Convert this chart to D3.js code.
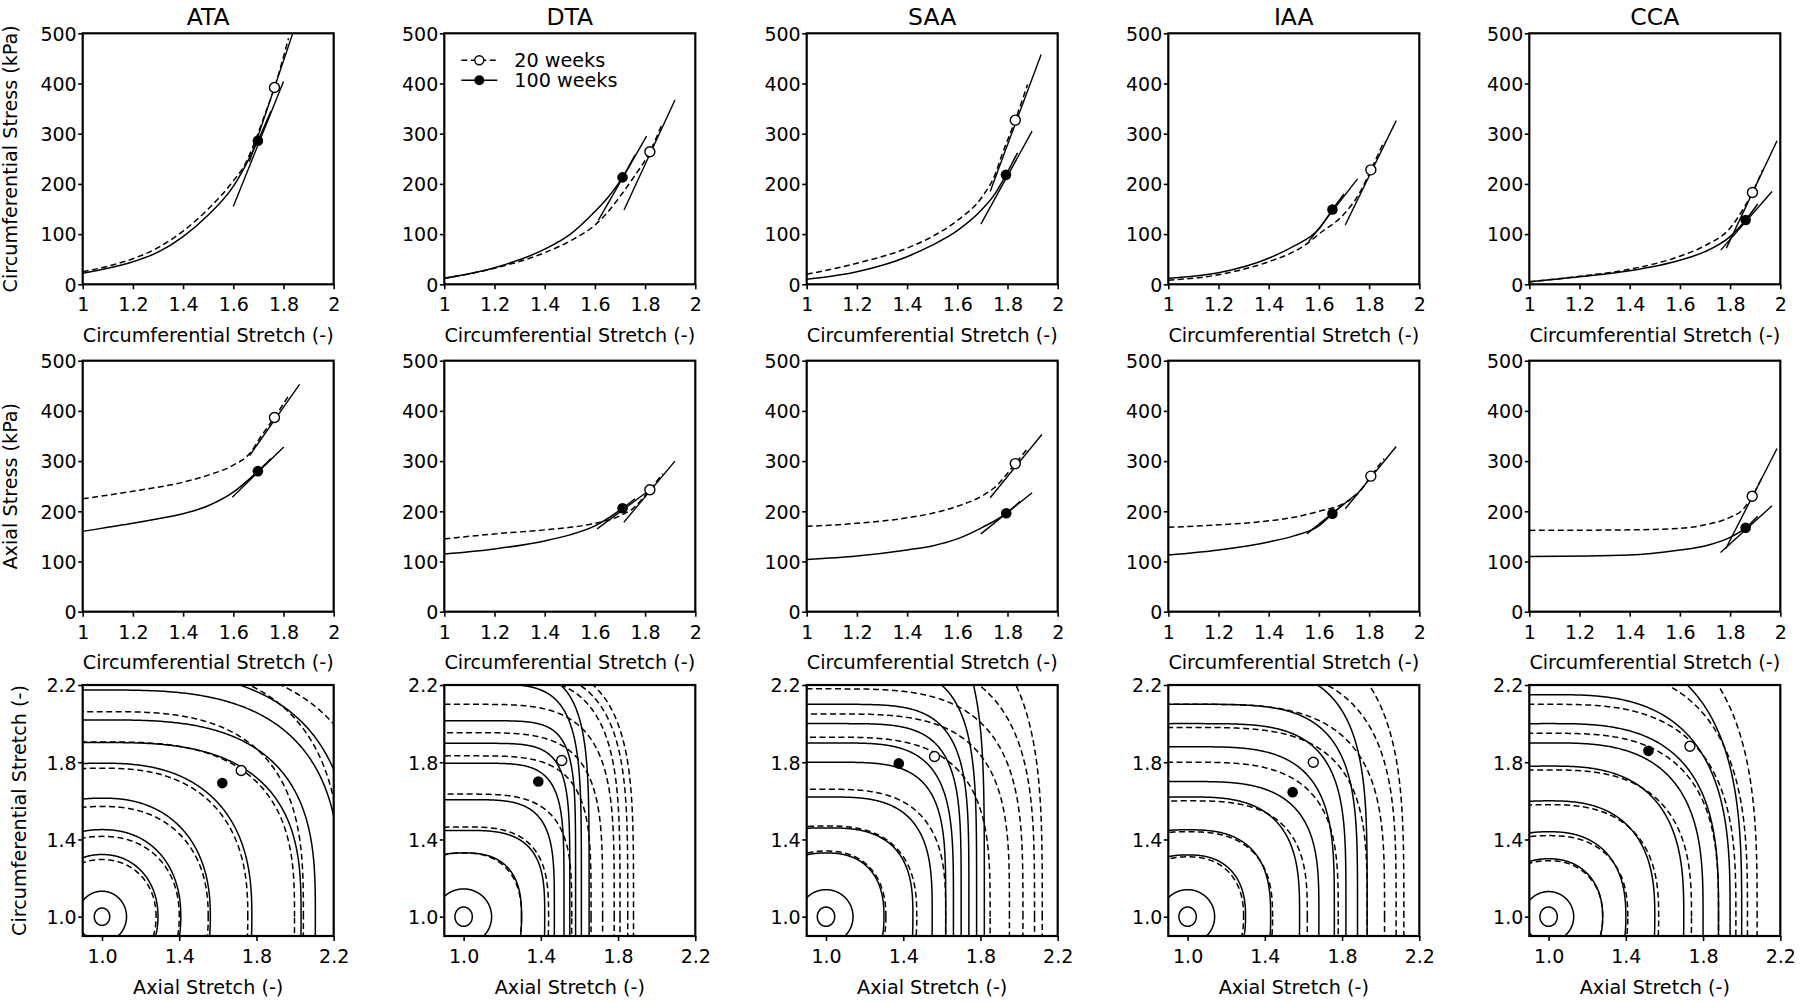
<!DOCTYPE html>
<html><head><meta charset="utf-8">
<script src="https://cdn.jsdelivr.net/npm/d3@7"></script>
<style>body{margin:0;background:#fff}text{font-family:"DejaVu Sans",sans-serif;fill:#000}</style>
</head><body><svg id="c" width="1800" height="1002"></svg>
<script>
// ---------------- DATA ----------------
const sites = ["ATA","DTA","SAA","IAA","CCA"];
const stretchTicks = [1,1.2,1.4,1.6,1.8,2];
const stressTicks = [0,100,200,300,400,500];
const mapTicks = [1.0,1.4,1.8,2.2];
const legendLabels = ["20 weeks","100 weeks"];

// Row 1: circumferential stress vs circumferential stretch
const circStress20 = [
  [[1,25],[1.1,36],[1.2,51],[1.3,73],[1.4,106],[1.5,150],[1.6,206],[1.65,242],[1.678,274],[1.72,330],[1.764,392],[1.82,490]],
  [[1,12],[1.2,32],[1.4,63],[1.5,86],[1.6,118],[1.65,143],[1.7,175],[1.75,210],[1.819,264],[1.87,322]],
  [[1,20],[1.2,42],[1.4,72],[1.5,95],[1.6,127],[1.7,175],[1.75,218],[1.778,258],[1.831,327],[1.88,398]],
  [[1,8],[1.2,19],[1.4,45],[1.5,65],[1.55,80],[1.6,100],[1.7,140],[1.76,180],[1.807,228],[1.86,285]],
  [[1,5],[1.2,16],[1.4,30],[1.6,56],[1.7,77],[1.8,112],[1.85,148],[1.889,183],[1.93,228]]
];
const circStress100 = [
  [[1,22],[1.1,32],[1.2,45],[1.3,64],[1.4,95],[1.5,138],[1.6,195],[1.65,238],[1.698,286],[1.75,345]],
  [[1,12],[1.2,33],[1.4,70],[1.5,99],[1.6,145],[1.65,172],[1.71,213],[1.76,258]],
  [[1,10],[1.2,25],[1.4,55],[1.5,78],[1.6,107],[1.7,150],[1.75,180],[1.794,218],[1.84,262]],
  [[1,12],[1.2,23],[1.4,52],[1.5,76],[1.6,110],[1.654,149],[1.7,180]],
  [[1,5],[1.2,15],[1.4,27],[1.6,48],[1.7,65],[1.8,95],[1.862,128],[1.91,160]]
];
const circMarker20 = [[1.764,392],[1.819,264],[1.831,327],[1.807,228],[1.889,183]];
const circMarker100 = [[1.698,286],[1.710,213],[1.794,218],[1.654,149],[1.862,128]];
const circTangent20 = [[1.664,244,1.864,540],[1.716,148,1.919,367],[1.731,185,1.934,458],[1.705,118,1.908,326],[1.785,72,1.987,286]];
const circTangent100 = [[1.6,155,1.8,404],[1.614,128,1.806,295],[1.694,120,1.898,305],[1.559,85,1.754,210],[1.763,68,1.967,185]];

// Row 2: axial stress vs circumferential stretch
const axialStress20 = [
  [[1,225],[1.2,240],[1.4,258],[1.5,272],[1.6,292],[1.665,315],[1.71,349],[1.764,387],[1.82,430]],
  [[1,145],[1.2,155],[1.4,163],[1.5,168],[1.6,176],[1.7,191],[1.75,205],[1.819,243],[1.87,275]],
  [[1,170],[1.2,176],[1.4,187],[1.5,196],[1.6,210],[1.7,231],[1.75,248],[1.831,295],[1.88,325]],
  [[1,168],[1.2,173],[1.4,181],[1.5,188],[1.6,200],[1.7,216],[1.76,238],[1.807,270],[1.86,305]],
  [[1,162],[1.4,163],[1.6,166],[1.7,173],[1.8,188],[1.85,203],[1.888,230],[1.93,270]]
];
const axialStress100 = [
  [[1,160],[1.1,168],[1.2,176],[1.3,185],[1.4,195],[1.5,211],[1.6,238],[1.65,258],[1.698,280],[1.75,305]],
  [[1,115],[1.2,125],[1.4,141],[1.5,153],[1.6,171],[1.71,206],[1.76,225]],
  [[1,104],[1.2,111],[1.4,123],[1.5,131],[1.6,145],[1.7,168],[1.795,196],[1.85,220]],
  [[1,113],[1.2,123],[1.4,139],[1.5,151],[1.6,171],[1.654,195],[1.7,215]],
  [[1,110],[1.4,113],[1.6,123],[1.7,131],[1.8,148],[1.862,167],[1.91,190]]
];
const axialMarker20 = [[1.764,387],[1.819,243],[1.831,295],[1.807,270],[1.888,230]];
const axialMarker100 = [[1.698,280],[1.710,206],[1.795,196],[1.654,195],[1.862,167]];
const axialTangent20 = [[1.665,311,1.864,453],[1.715,178,1.919,300],[1.731,227,1.937,353],[1.705,205,1.908,329],[1.782,125,1.987,325]];
const axialTangent100 = [[1.596,228,1.801,328],[1.609,165,1.806,238],[1.694,155,1.898,237],[1.552,155,1.751,235],[1.762,118,1.967,211]];

// Row 3: energy contours in (axial stretch, circumferential stretch)
// each contour: [axial-stretch intercept at circ=1, circ-stretch intercept at axial=1, squareness]
const mapCenter = [1,1];
const contours100 = [
  [[1.04,1.045,2],[1.127,1.132,2],[1.29,1.322,2.1],[1.408,1.451,2.2],[1.561,1.614,2.3],[1.776,1.795,2.5],[2.031,1.902,2.9],[2.105,2.019,3],[2.237,2.174,3],[2.30,2.274,3]],
  [[1.045,1.05,2],[1.145,1.144,2],[1.30,1.33,2.6],[1.42,1.447,3.2],[1.47,1.606,4],[1.52,1.795,5],[1.55,1.898,5.5],[1.58,2.015,6],[1.61,2.205,5],[1.65,2.28,5]],
  [[1.045,1.05,2],[1.14,1.14,2],[1.30,1.33,2.4],[1.45,1.46,2.8],[1.55,1.62,3.2],[1.62,1.80,4],[1.66,1.90,4],[1.70,2.0,4.5],[1.74,2.1,4.5],[1.78,2.3,4.5],[1.82,2.6,4.5]],
  [[1.045,1.05,2],[1.14,1.14,2],[1.30,1.32,2.4],[1.43,1.45,2.7],[1.58,1.62,3],[1.68,1.70,3.3],[1.76,1.88,3.6],[1.82,2.0,4],[1.88,2.1,4],[1.93,2.3,4]],
  [[1.045,1.05,2],[1.13,1.13,2],[1.28,1.30,2.2],[1.40,1.44,2.4],[1.55,1.60,2.6],[1.70,1.78,2.8],[1.80,1.90,3],[1.88,2.0,3],[1.94,2.15,3],[2.0,2.4,3]]
];
const contours20 = [
  [[1.28,1.296,2.1],[1.40,1.416,2.2],[1.55,1.571,2.3],[1.755,1.769,2.5],[1.997,1.905,2.9],[2.043,2.062,3],[2.243,2.31,3],[2.44,2.33,3]],
  [[1.30,1.33,2.4],[1.44,1.465,3],[1.56,1.635,3.5],[1.66,1.833,4],[1.72,1.953,4],[1.78,2.10,4],[1.81,2.25,4],[1.85,2.29,4],[1.88,2.33,4]],
  [[1.31,1.34,2.3],[1.47,1.47,2.6],[1.62,1.66,3],[1.85,1.93,3.3],[1.95,2.05,3.5],[2.02,2.18,3.5],[2.08,2.35,3.5],[2.12,2.6,3.5]],
  [[1.29,1.31,2.3],[1.44,1.44,2.6],[1.62,1.60,3],[1.78,1.80,3.3],[1.93,1.98,3.5],[2.02,2.1,3.5],[2.08,2.3,3.5],[2.12,2.5,3.5]],
  [[1.28,1.29,2.2],[1.41,1.42,2.4],[1.57,1.58,2.6],[1.74,1.76,2.8],[1.88,1.95,3],[1.97,2.1,3],[2.03,2.3,3],[2.08,2.55,3]]
];
const mapMarker20 = [[1.721,1.757],[1.508,1.809],[1.562,1.83],[1.651,1.80],[1.732,1.883]];
const mapMarker100 = [[1.623,1.692],[1.387,1.70],[1.377,1.794],[1.544,1.645],[1.517,1.859]];

// ---------------- LAYOUT ----------------
const colLeft = [82.7, 444.3, 806.7, 1168.3, 1529.3];
const rowTop = [33.3, 360.7, 685];
const W = 251, H = 251;
const svg = d3.select("#c");
const TICK_FS = 19, LABEL_FS = 19.2;
const dash = "6,3.5";

function drawPanel(r, c) {
  const g = svg.append("g").attr("transform", `translate(${colLeft[c]},${rowTop[r]})`);
  const isMap = r === 2;
  const x = d3.scaleLinear().domain(isMap ? [0.9, 2.2] : [1, 2]).range([0, W]);
  const y = d3.scaleLinear().domain(isMap ? [0.9, 2.2] : [0, 500]).range([H, 0]);
  const clipId = `clip${r}${c}`;
  g.append("clipPath").attr("id", clipId).append("rect").attr("width", W).attr("height", H);
  const plot = g.append("g").attr("clip-path", `url(#${clipId})`);

  const fmtX = isMap ? d3.format(".1f") : d3.format("~g");
  const xa = g.append("g").attr("transform", `translate(0,${H})`)
    .call(d3.axisBottom(x).tickValues(isMap ? mapTicks : stretchTicks).tickFormat(fmtX).tickSize(5).tickPadding(8.5));
  const ya = g.append("g")
    .call(d3.axisLeft(y).tickValues(isMap ? mapTicks : stressTicks).tickFormat(isMap ? d3.format(".1f") : d3.format("d")).tickSize(4.5).tickPadding(1.5));
  [xa, ya].forEach(a => {
    a.select(".domain").remove();
    a.selectAll("line").attr("stroke", "#000").attr("stroke-width", 1.6);
    a.selectAll("text").attr("font-size", TICK_FS).attr("font-family", "DejaVu Sans");
  });
  ya.selectAll("text").attr("dy", "0.36em");

  const line = d3.line().x(d => x(d[0])).y(d => y(d[1]));
  if (!isMap) {
    const d20 = r === 0 ? circStress20[c] : axialStress20[c];
    const d100 = r === 0 ? circStress100[c] : axialStress100[c];
    const t20 = r === 0 ? circTangent20[c] : axialTangent20[c];
    const t100 = r === 0 ? circTangent100[c] : axialTangent100[c];
    const m20 = r === 0 ? circMarker20[c] : axialMarker20[c];
    const m100 = r === 0 ? circMarker100[c] : axialMarker100[c];
    const cl = d3.line().x(d => x(d[0])).y(d => y(d[1])).curve(d3.curveMonotoneX);
    plot.append("path").attr("d", cl(d100)).attr("fill", "none").attr("stroke", "#000").attr("stroke-width", 1.5);
    plot.append("path").attr("d", cl(d20)).attr("fill", "none").attr("stroke", "#000").attr("stroke-width", 1.5).attr("stroke-dasharray", dash);
    [t20, t100].forEach(t => {
      plot.append("line").attr("x1", x(t[0])).attr("y1", y(t[1])).attr("x2", x(t[2])).attr("y2", y(t[3]))
        .attr("stroke", "#000").attr("stroke-width", 1.4);
    });
    plot.append("circle").attr("cx", x(m100[0])).attr("cy", y(m100[1])).attr("r", 5.3).attr("fill", "#000");
    plot.append("circle").attr("cx", x(m20[0])).attr("cy", y(m20[1])).attr("r", 5).attr("fill", "#fff").attr("stroke", "#000").attr("stroke-width", 1.4);
  } else {
    const shape = (p) => {
      const a = p[0] - mapCenter[0], b = p[1] - mapCenter[1], n = p[2];
      const pts = [];
      for (let i = 0; i <= 900; i++) {
        const t = i / 900 * 2 * Math.PI, ct = Math.cos(t), st = Math.sin(t);
        pts.push([mapCenter[0] + a * Math.sign(ct) * Math.pow(Math.abs(ct), 2 / n),
                  mapCenter[1] + b * Math.sign(st) * Math.pow(Math.abs(st), 2 / n)]);
      }
      return pts;
    };
    contours100[c].forEach(p => plot.append("path").attr("d", line(shape(p))).attr("fill", "none").attr("stroke", "#000").attr("stroke-width", 1.5));
    contours20[c].forEach(p => plot.append("path").attr("d", line(shape(p))).attr("fill", "none").attr("stroke", "#000").attr("stroke-width", 1.5).attr("stroke-dasharray", dash));
    const m20 = mapMarker20[c], m100 = mapMarker100[c];
    plot.append("circle").attr("cx", x(m100[0])).attr("cy", y(m100[1])).attr("r", 5.3).attr("fill", "#000");
    plot.append("circle").attr("cx", x(m20[0])).attr("cy", y(m20[1])).attr("r", 5).attr("fill", "#fff").attr("stroke", "#000").attr("stroke-width", 1.4);
  }
  g.append("rect").attr("width", W).attr("height", H).attr("fill", "none").attr("stroke", "#000").attr("stroke-width", 2.2);

  g.append("text").attr("x", W / 2).attr("y", H + 57.5).attr("text-anchor", "middle").attr("font-size", LABEL_FS)
    .text(isMap ? "Axial Stretch (-)" : "Circumferential Stretch (-)");
  if (c === 0) {
    const lbl = r === 0 ? "Circumferential Stress (kPa)" : r === 1 ? "Axial Stress (kPa)" : "Circumferential Stretch (-)";
    const lx = r === 2 ? -57 : -66;
    g.append("text").attr("transform", `translate(${lx},${H / 2}) rotate(-90)`).attr("text-anchor", "middle")
      .attr("font-size", LABEL_FS).text(lbl);
  }
  if (r === 0) {
    g.append("text").attr("x", W / 2).attr("y", -8).attr("text-anchor", "middle").attr("font-size", 23.5).text(sites[c]);
  }
  if (r === 0 && c === 1) {
    const lg = g.append("g");
    [0, 1].forEach(i => {
      const yy = 27 + i * 20;
      lg.append("line").attr("x1", 17).attr("x2", 53).attr("y1", yy).attr("y2", yy).attr("stroke", "#000").attr("stroke-width", 1.5)
        .attr("stroke-dasharray", i === 0 ? "6,3.5" : null);
      if (i === 0) lg.append("circle").attr("cx", 35).attr("cy", yy).attr("r", 4.5).attr("fill", "#fff").attr("stroke", "#000").attr("stroke-width", 1.4);
      else lg.append("circle").attr("cx", 35).attr("cy", yy).attr("r", 5).attr("fill", "#000");
      lg.append("text").attr("x", 70).attr("y", yy).attr("dy", "0.36em").attr("font-size", LABEL_FS).text(legendLabels[i]);
    });
  }
}
for (let r = 0; r < 3; r++) for (let c = 0; c < 5; c++) drawPanel(r, c);
</script></body></html>
